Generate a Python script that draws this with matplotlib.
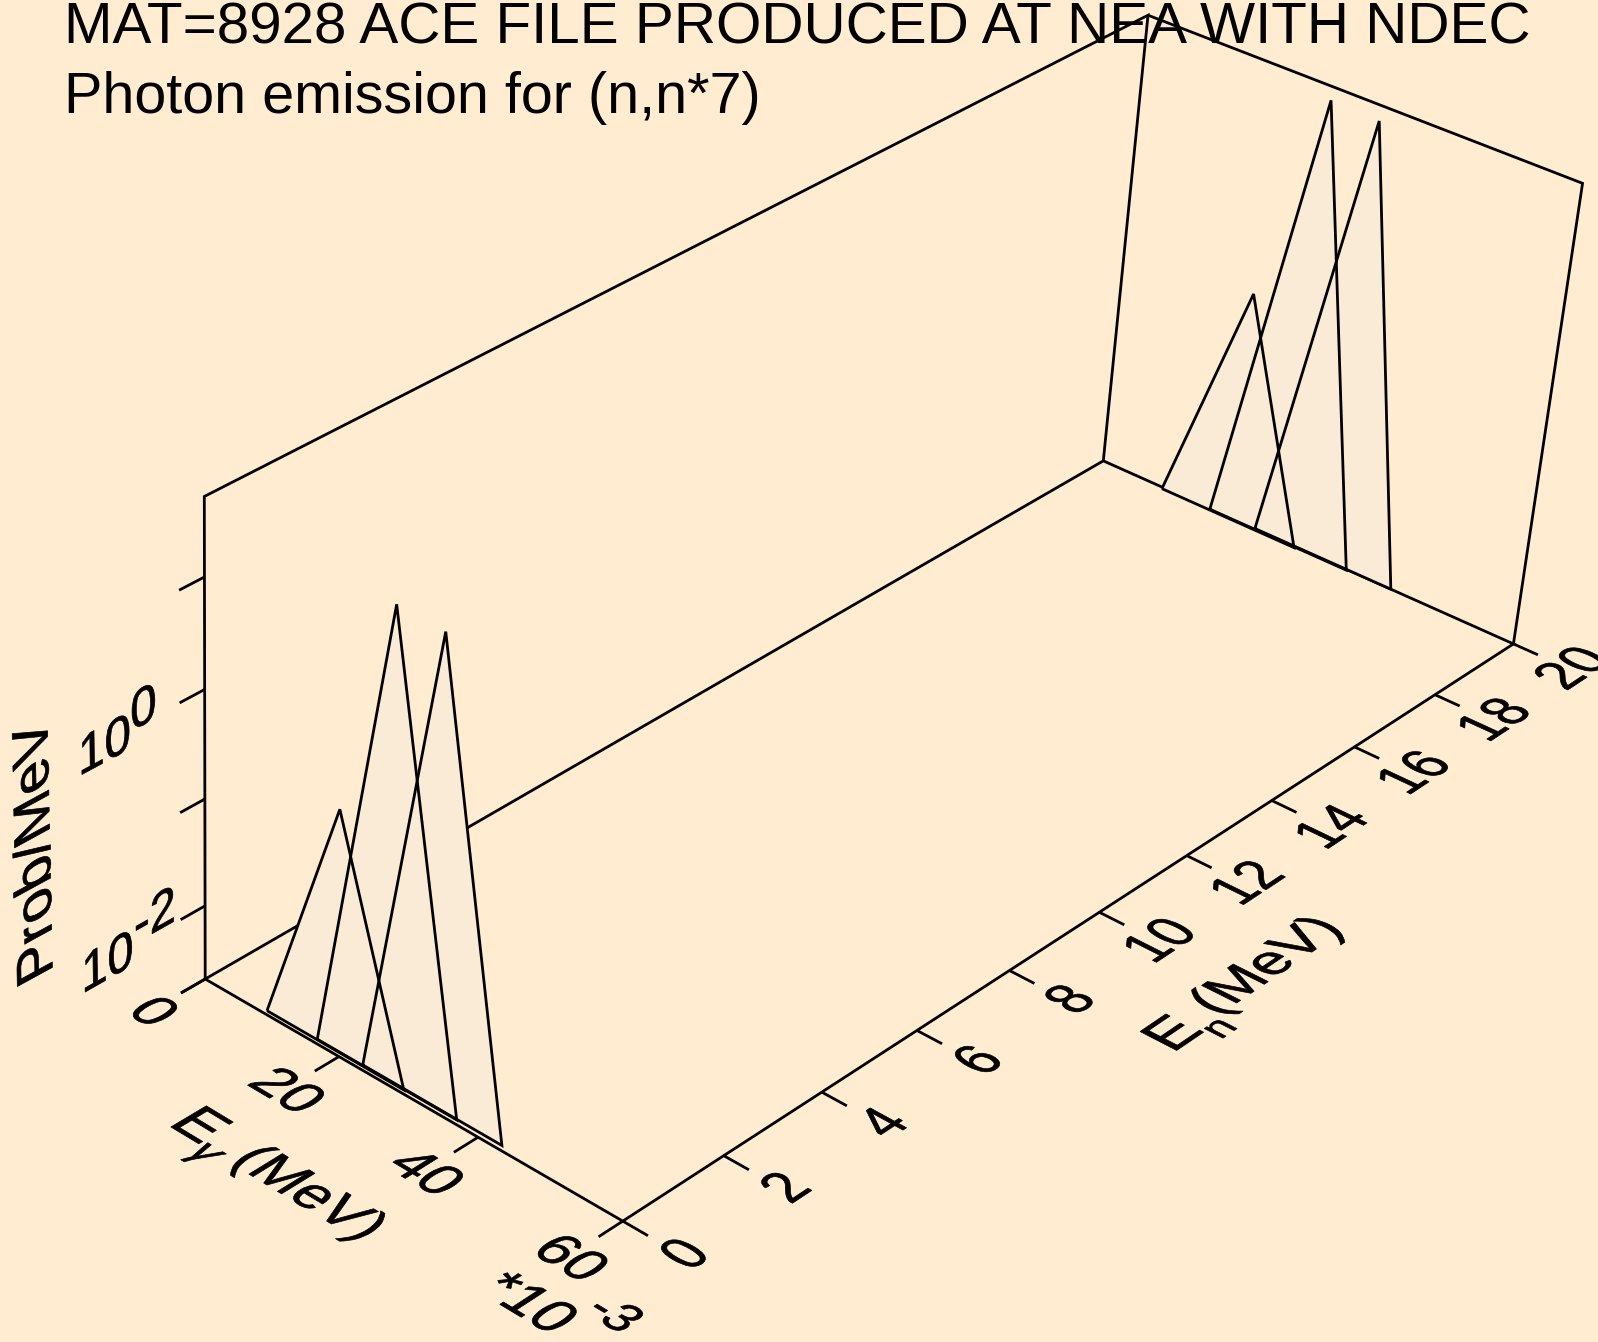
import numpy as np
import matplotlib
matplotlib.use('Agg')
import matplotlib.pyplot as plt
from matplotlib.patheffects import AbstractPathEffect
from matplotlib.transforms import Affine2D

plt.rcParams['font.family'] = ['Liberation Sans', 'DejaVu Sans']

WIDTH, HEIGHT = 1598, 1342
BG_COLOR = '#ffecd1'
FILL_COLOR = '#faebd7'
LW = 2.0

# Axis ranges
EG_RANGE = (0.0, 60.0)       # photon energy, 10^-3 MeV
EN_RANGE = (0.0, 20.0)       # incident energy, MeV
LOGP_RANGE = (-2.7, 1.7)     # log10 of prob/MeV

# Ticks
eg_ticks = [0, 20, 40, 60]
en_ticks = [0, 2, 4, 6, 8, 10, 12, 14, 16, 18, 20]
logp_ticks = [-2.7, -2, -1, 0, 1]

# Spectra: one triangle per gamma line, at the low and at the high incident energy
en_low = [0.07, 0.08, 0.09]
en_high = [19.96, 19.98, 20.0]
eg_left_low = [8.8, 16.2, 22.8]
eg_left_high = [9.2, 16.3, 22.9]
eg_peak = [19.1, 26.4, 33.0]
eg_right = [28.9, 36.4, 42.7]
prob_peak = [0.35, 38.0, 36.0]

# Where the box corners fall on the page, (Eg, En, logP) -> pixel. Used only to fit the camera.
camera_world = [(0, 0, 0), (1, 0, 0), (0, 1, 0), (1, 1, 0), (0, 0, 1), (0, 1, 1), (1, 1, 1)]
camera_pixel = [(204.8, 979.4), (622.7, 1220.9), (1104.7, 460.6), (1512.4, 644.0),
                (204.8, 496.3), (1146.5, 15.3), (1583.7, 183.4)]


def fit_camera(world, pixel):
    # Direct linear transform with h[11] = 1
    rows, rhs = [], []
    for (X, Y, Z), (x, y) in zip(world, pixel):
        rows.append([X, Y, Z, 1, 0, 0, 0, 0, -x * X, -x * Y, -x * Z])
        rhs.append(x)
        rows.append([0, 0, 0, 0, X, Y, Z, 1, -y * X, -y * Y, -y * Z])
        rhs.append(y)
    h = np.linalg.lstsq(np.array(rows), np.array(rhs), rcond=None)[0]
    return np.append(h, 1.0).reshape(3, 4)


CAMERA = fit_camera(camera_world, camera_pixel)


def project(eg, en, logp):
    # Data values to page pixels through the perspective camera
    u = (np.asarray(eg, float) - EG_RANGE[0]) / (EG_RANGE[1] - EG_RANGE[0])
    v = (np.asarray(en, float) - EN_RANGE[0]) / (EN_RANGE[1] - EN_RANGE[0])
    w = (np.asarray(logp, float) - LOGP_RANGE[0]) / (LOGP_RANGE[1] - LOGP_RANGE[0])
    pts = np.stack([u, v, w, np.ones_like(u)])
    xh, yh, zh = CAMERA @ pts
    return xh / zh, yh / zh


class PlaneShear(AbstractPathEffect):
    # Draw the glyph outlines through a linear map about the text anchor,
    # so that a text looks like it is lying in one of the box planes
    def __init__(self, anchor, base, up, stroke=0.5):
        super().__init__()
        self.anchor = anchor
        self.stroke = stroke
        self.matrix = Affine2D.from_values(base[0], base[1], up[0], up[1], 0, 0)

    def draw_path(self, renderer, gc, tpath, affine, rgbFace=None):
        ax_, ay_ = self.anchor
        new = affine + Affine2D().translate(-ax_, -ay_) + self.matrix + Affine2D().translate(ax_, ay_)
        gc.set_linewidth(self.stroke)
        renderer.draw_path(gc, tpath, new, rgbFace)


def direction(pos, step):
    x0, y0 = project(*pos)
    x1, y1 = project(pos[0] + step[0], pos[1] + step[1], pos[2] + step[2])
    d = np.array([x1 - x0, -(y1 - y0)], float)  # display y goes up
    return d / np.hypot(*d)


def plane_text(ax, s, pos, base_dir, up_dir, em, up_scale=1.0, **kw):
    # pos is the middle of the baseline, in data values
    x, y = project(*pos)
    anchor = ax.transData.transform((float(x), float(y)))
    t = ax.text(float(x), float(y), s, fontsize=em * 0.72, ha='center', va='baseline',
                color='black', clip_on=False, zorder=5, **kw)
    t.set_path_effects([PlaneShear(anchor, direction(pos, base_dir), direction(pos, up_dir) * up_scale)])
    return t


def line3d(ax, eg, en, logp, z=1):
    x, y = project(eg, en, logp)
    ax.plot(x, y, color='black', lw=LW, solid_joinstyle='miter', solid_capstyle='butt', zorder=z)


fig = plt.figure(figsize=(WIDTH / 100, HEIGHT / 100), dpi=100, facecolor=BG_COLOR)
ax = fig.add_axes([0, 0, 1, 1])
ax.set_xlim(0, WIDTH)
ax.set_ylim(HEIGHT, 0)
ax.axis('off')

eg0, eg1 = EG_RANGE
en0, en1 = EN_RANGE
lp0, lp1 = LOGP_RANGE

# Box: floor and the two back walls
line3d(ax, [eg0, eg1, eg1, eg0, eg0], [en0, en0, en1, en1, en0], [lp0] * 5)
line3d(ax, [eg0, eg0, eg0, eg0], [en0, en0, en1, en1], [lp0, lp1, lp1, lp0])
line3d(ax, [eg0, eg1, eg1], [en1, en1, en1], [lp1, lp1, lp0])

# Ticks
TICK_EN = 0.47
TICK_EG = 3.4
for t in eg_ticks:
    line3d(ax, [t, t], [en0, en0 - TICK_EN], [lp0, lp0])
for t in en_ticks:
    line3d(ax, [eg1, eg1 + TICK_EG], [t, t], [lp0, lp0])
for t in logp_ticks:
    line3d(ax, [eg0, eg0], [en0, en0 - TICK_EN], [t, t])

# Spectra, fills first so that every outline stays visible
for en_set, eg_left in ((en_low, eg_left_low), (en_high, eg_left_high)):
    for en, l, m, r, p in zip(en_set, eg_left, eg_peak, eg_right, prob_peak):
        eg = [l, m, r, l]
        lp = [lp0, np.log10(p), lp0, lp0]
        x, y = project(eg, [en] * 4, lp)
        ax.fill(x, y, color=FILL_COLOR, lw=0, zorder=2)
        line3d(ax, eg, [en] * 4, lp, z=3)

# Tick labels lying in the planes
U, V, W = (1, 0, 0), (0, 1, 0), (0, 0, 1)
NEG_U = (-1, 0, 0)
NEG_V = (0, -1, 0)

for t in eg_ticks:
    plane_text(ax, str(t), (t + 0.37, -1.34, lp0), U, V, 56)
for t in en_ticks:
    plane_text(ax, str(t), (70.2, t + 0.05, lp0), V, NEG_U, 51, up_scale=1.18)
plane_text(ax, '10', (0, -1.86, 0 - 0.17), V, W, 54)
plane_text(ax, '0', (0, -1.14, 0 - 0.02), V, W, 54)
plane_text(ax, '10', (0, -1.86, -2 - 0.17), V, W, 54)
plane_text(ax, '-2', (0, -0.96, -2 + 0.02), V, W, 54)

# Axis titles
plane_text(ax, 'E', (18.2, -2.73, lp0), U, V, 60)
plane_text(ax, '\u03b3', (22.0, -3.0, lp0), U, V, 44, style='italic')
plane_text(ax, '(MeV)', (34.3, -2.73, lp0), U, V, 57)
plane_text(ax, '*10', (62.3, -2.41, lp0), U, V, 58)
plane_text(ax, '-3', (69.5, -1.77, lp0), U, V, 50)

plane_text(ax, 'E', (81.6, 8.4, lp0), V, NEG_U, 60)
plane_text(ax, 'n', (83.7, 8.95, lp0), V, NEG_U, 40)
plane_text(ax, '(MeV)', (80.85, 10.6, lp0), V, NEG_U, 57)

plane_text(ax, 'Prob/MeV', (0, -2.88, -0.63), W, NEG_V, 58)

# Page titles
ax.text(64, 43, 'MAT=8928 ACE FILE PRODUCED AT NEA WITH NDEC', fontsize=42.0, color='black', zorder=5)
ax.text(64, 113, 'Photon emission for (n,n*7)', fontsize=41.4, color='black', zorder=5)

fig.savefig('out.png', dpi=100, facecolor=BG_COLOR)
